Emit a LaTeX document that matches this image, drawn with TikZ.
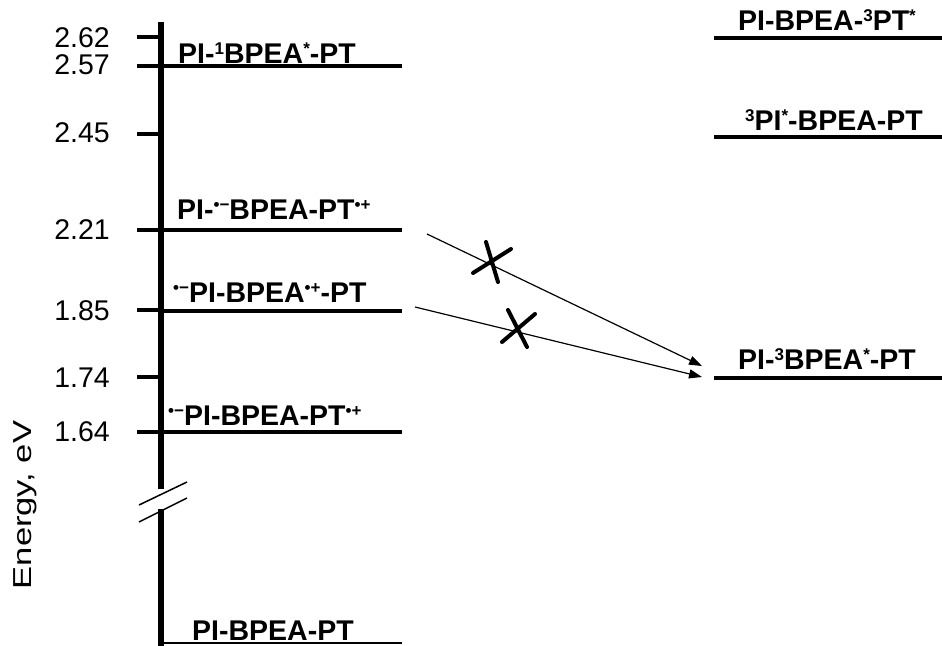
\documentclass[tikz,border=0pt]{standalone}
\usepackage{fontspec}
\setmainfont{Liberation Sans}
\usetikzlibrary{arrows.meta}
\newcommand\sps[1]{\raisebox{8.5pt}{\fontsize{17}{17}\selectfont #1}}
\begin{document}
\begin{tikzpicture}[x=1pt,y=-1pt,
 axisline/.style={line width=6pt},
 tickline/.style={line width=4.5pt},
 levelline/.style={line width=4.5pt},
 ticklbl/.style={anchor=east, inner sep=0pt, font=\fontsize{28.5}{28.5}\selectfont},
 lvl/.style={anchor=base west, inner sep=0pt, font=\fontsize{28.5}{28.5}\selectfont\bfseries},
 trans/.style={line width=1.2pt, -{Triangle[length=13pt,width=9pt]}},
 crossline/.style={line width=4pt, line cap=round},
 brk/.style={line width=1.5pt}]
\useasboundingbox (0,0) rectangle (942,645);
% axis
\draw[axisline] (161,22) -- (161,489);
\draw[axisline] (161,509) -- (161,650);
\draw[brk] (139,505) -- (187,482);
\draw[brk] (139,522) -- (187,498);
% ticks
\foreach \yy in {37,66,134,230,310,377,432} \draw[tickline] (137,\yy) -- (161,\yy);
\node[ticklbl] (t262) at (110,38) {2.62};
\node[ticklbl] (t257) at (110,65) {2.57};
\node[ticklbl] (t245) at (110,133) {2.45};
\node[ticklbl] (t221) at (110,230) {2.21};
\node[ticklbl] (t185) at (110,311) {1.85};
\node[ticklbl] (t174) at (110,378) {1.74};
\node[ticklbl] (t164) at (110,432) {1.64};
\node[rotate=90, inner sep=0pt, font=\fontsize{26}{26}\selectfont] (elbl) at (25,505) {\scalebox{1.33}[1]{Energy, eV}};
% left levels
\draw[levelline] (161,66) -- (402,66);
\draw[levelline] (161,230) -- (402,230);
\draw[levelline] (161,311) -- (402,311);
\draw[levelline] (161,432) -- (402,432);
\draw[line width=1.5pt] (161,643) -- (402,643);
% right levels
\draw[levelline] (714,38) -- (942,38);
\draw[levelline] (714,137) -- (942,137);
\draw[levelline] (714,378) -- (942,378);
% labels
\node[lvl] (l1) at (178,63) {PI-\sps{1}BPEA\sps{*}-PT};
\node[lvl] (l2) at (177,219) {PI-\sps{•−}BPEA-PT\sps{•+}};
\node[lvl] (l3) at (173,302) {\sps{•−}PI-BPEA\sps{•+}-PT};
\node[lvl] (l4) at (168,425) {\sps{•−}PI-BPEA-PT\sps{•+}};
\node[lvl] (l5) at (192,640) {PI-BPEA-PT};
\node[lvl] (r1) at (738,30) {PI-BPEA-\sps{3}PT\sps{*}};
\node[lvl] (r2) at (745,130) {\sps{3}PI\sps{*}-BPEA-PT};
\node[lvl] (r3) at (738,369) {PI-\sps{3}BPEA\sps{*}-PT};
% transitions
\coordinate (s1) at (427,234);
\coordinate (e1) at (702,366);
\coordinate (s2) at (415,307);
\coordinate (e2) at (702,377);
\draw[trans] (s1) -- (e1);
\draw[trans] (s2) -- (e2);
% crosses
\coordinate (c1a) at (473,273); \coordinate (c1b) at (511,249);
\coordinate (c1c) at (486,242); \coordinate (c1d) at (498,282);
\coordinate (c2a) at (502,342); \coordinate (c2b) at (535,314);
\coordinate (c2c) at (508,310); \coordinate (c2d) at (527,347);
\draw[crossline] (c1a) -- (c1b);
\draw[crossline] (c1c) -- (c1d);
\draw[crossline] (c2a) -- (c2b);
\draw[crossline] (c2c) -- (c2d);
\end{tikzpicture}
\end{document}
